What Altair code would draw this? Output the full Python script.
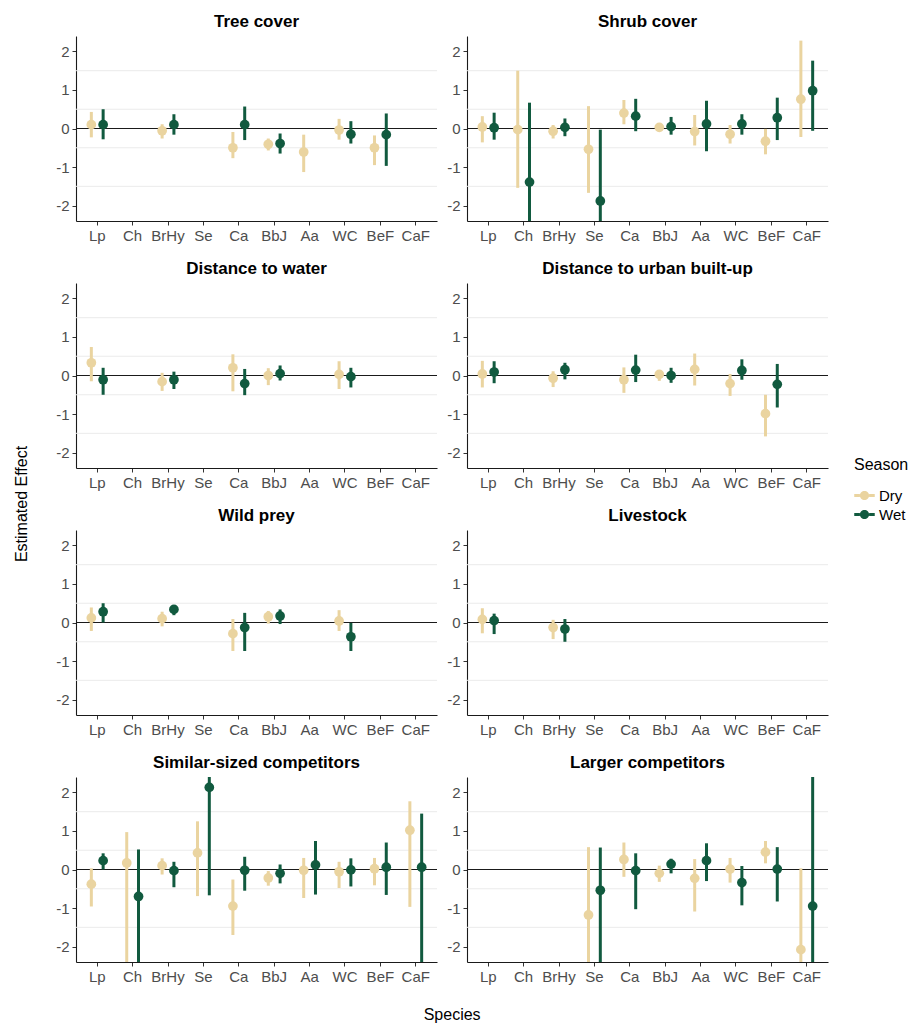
import altair as alt
import pandas as pd

FONT = "Liberation Sans"

species = ["Lp", "Ch", "BrHy", "Se", "Ca", "BbJ", "Aa", "WC", "BeF", "CaF"]
seasons = ["Dry", "Wet"]
season_colors = ["#EAD4A0", "#115A3F"]
panels = ["Tree cover", "Shrub cover", "Distance to water", "Distance to urban built-up",
          "Wild prey", "Livestock", "Similar-sized competitors", "Larger competitors"]
y_ticks = [-2, -1, 0, 1, 2]
minor_grid = [-1.5, -0.5, 0.5, 1.5]
zero_line = [0]
N = None

# ---- Tree cover ----
tree_dry_est = [0.10, N, -0.06, N, -0.50, -0.41, -0.61, -0.04, -0.50, N]
tree_dry_lo = [-0.23, N, -0.26, N, -0.77, -0.57, -1.13, -0.29, -0.95, N]
tree_dry_hi = [0.43, N, 0.11, N, -0.09, -0.26, -0.16, 0.25, -0.18, N]
tree_wet_est = [0.10, N, 0.10, N, 0.10, -0.39, N, -0.15, -0.16, N]
tree_wet_lo = [-0.28, N, -0.16, N, -0.30, -0.65, N, -0.39, -0.97, N]
tree_wet_hi = [0.50, N, 0.37, N, 0.57, -0.13, N, 0.19, 0.39, N]
# ---- Shrub cover ----
shrub_dry_est = [0.04, -0.03, -0.07, -0.54, 0.40, 0.03, -0.08, -0.15, -0.33, 0.76]
shrub_dry_lo = [-0.36, -1.54, -0.26, -1.67, 0.11, -0.06, -0.44, -0.39, -0.67, -0.22]
shrub_dry_hi = [0.32, 1.50, 0.09, 0.58, 0.74, 0.13, 0.35, 0.09, -0.01, 2.28]
shrub_wet_est = [0.02, -1.39, 0.03, -1.88, 0.32, 0.05, 0.12, 0.12, 0.28, 0.98]
shrub_wet_lo = [-0.29, -2.6, -0.20, -2.6, -0.07, -0.16, -0.59, -0.16, -0.30, -0.06]
shrub_wet_hi = [0.41, 0.67, 0.26, -0.03, 0.77, 0.30, 0.72, 0.37, 0.80, 1.76]
# ---- Distance to water ----
water_dry_est = [0.33, N, -0.16, N, 0.20, 0.00, N, 0.03, N, N]
water_dry_lo = [-0.15, N, -0.40, N, -0.41, -0.25, N, -0.35, N, N]
water_dry_hi = [0.74, N, 0.07, N, 0.55, 0.19, N, 0.37, N, N]
water_wet_est = [-0.11, N, -0.11, N, -0.21, 0.05, N, -0.03, N, N]
water_wet_lo = [-0.50, N, -0.35, N, -0.51, -0.13, N, -0.31, N, N]
water_wet_hi = [0.20, N, 0.10, N, 0.17, 0.26, N, 0.20, N, N]
# ---- Distance to urban built-up ----
urban_dry_est = [0.04, N, -0.07, N, -0.11, 0.03, 0.16, -0.21, -0.99, N]
urban_dry_lo = [-0.31, N, -0.30, N, -0.45, -0.14, -0.26, -0.53, -1.58, N]
urban_dry_hi = [0.38, N, 0.11, N, 0.21, 0.13, 0.57, 0.04, -0.50, N]
urban_wet_est = [0.09, N, 0.15, N, 0.14, 0.00, N, 0.13, -0.23, N]
urban_wet_lo = [-0.20, N, -0.10, N, -0.17, -0.19, N, -0.11, -0.83, N]
urban_wet_hi = [0.37, N, 0.33, N, 0.54, 0.20, N, 0.42, 0.30, N]
# ---- Wild prey ----
prey_dry_est = [0.12, N, 0.10, N, -0.29, 0.15, N, 0.04, N, N]
prey_dry_lo = [-0.22, N, -0.10, N, -0.74, -0.03, N, -0.22, N, N]
prey_dry_hi = [0.39, N, 0.28, N, 0.09, 0.30, N, 0.32, N, N]
prey_wet_est = [0.28, N, 0.34, N, -0.13, 0.17, N, -0.37, N, N]
prey_wet_lo = [0.00, N, 0.19, N, -0.74, -0.04, N, -0.74, N, N]
prey_wet_hi = [0.50, N, 0.43, N, 0.25, 0.34, N, -0.01, N, N]
# ---- Livestock ----
live_dry_est = [0.08, N, -0.13, N, N, N, N, N, N, N]
live_dry_lo = [-0.28, N, -0.43, N, N, N, N, N, N, N]
live_dry_hi = [0.37, N, 0.07, N, N, N, N, N, N, N]
live_wet_est = [0.05, N, -0.17, N, N, N, N, N, N, N]
live_wet_lo = [-0.30, N, -0.50, N, N, N, N, N, N, N]
live_wet_hi = [0.23, N, 0.09, N, N, N, N, N, N, N]
# ---- Similar-sized competitors ----
simil_dry_est = [-0.38, 0.17, 0.10, 0.43, -0.95, -0.22, -0.02, -0.06, 0.02, 1.02]
simil_dry_lo = [-0.96, -2.6, -0.13, -0.69, -1.70, -0.42, -0.74, -0.48, -0.41, -0.97]
simil_dry_hi = [0.03, 0.97, 0.29, 1.25, -0.26, -0.04, 0.30, 0.20, 0.30, 1.77]
simil_wet_est = [0.23, -0.70, -0.03, 2.13, -0.02, -0.10, 0.12, -0.01, 0.06, 0.06]
simil_wet_lo = [0.00, -2.6, -0.46, -0.67, -0.55, -0.36, -0.65, -0.44, -0.66, -2.6]
simil_wet_hi = [0.42, 0.52, 0.20, 2.6, 0.33, 0.13, 0.74, 0.29, 0.70, 1.45]
# ---- Larger competitors ----
large_dry_est = [N, N, N, -1.18, 0.26, -0.10, -0.23, 0.01, 0.45, -2.08]
large_dry_lo = [N, N, N, -2.6, -0.19, -0.32, -1.09, -0.34, 0.16, -2.6]
large_dry_hi = [N, N, N, 0.58, 0.70, 0.10, 0.27, 0.30, 0.74, 0.03]
large_wet_est = [N, N, N, -0.54, -0.03, 0.14, 0.23, -0.34, 0.01, -0.95]
large_wet_lo = [N, N, N, -2.6, -1.03, -0.10, -0.30, -0.93, -0.83, -2.6]
large_wet_hi = [N, N, N, 0.57, 0.42, 0.28, 0.68, 0.09, 0.58, 2.6]

panel_series = [
    (tree_dry_est, tree_dry_lo, tree_dry_hi, tree_wet_est, tree_wet_lo, tree_wet_hi),
    (shrub_dry_est, shrub_dry_lo, shrub_dry_hi, shrub_wet_est, shrub_wet_lo, shrub_wet_hi),
    (water_dry_est, water_dry_lo, water_dry_hi, water_wet_est, water_wet_lo, water_wet_hi),
    (urban_dry_est, urban_dry_lo, urban_dry_hi, urban_wet_est, urban_wet_lo, urban_wet_hi),
    (prey_dry_est, prey_dry_lo, prey_dry_hi, prey_wet_est, prey_wet_lo, prey_wet_hi),
    (live_dry_est, live_dry_lo, live_dry_hi, live_wet_est, live_wet_lo, live_wet_hi),
    (simil_dry_est, simil_dry_lo, simil_dry_hi, simil_wet_est, simil_wet_lo, simil_wet_hi),
    (large_dry_est, large_dry_lo, large_dry_hi, large_wet_est, large_wet_lo, large_wet_hi),
]

rows = []
for pname, ser in zip(panels, panel_series):
    for s_idx, season in enumerate(seasons):
        est, lo, hi = ser[3 * s_idx], ser[3 * s_idx + 1], ser[3 * s_idx + 2]
        for sp, e, l, h in zip(species, est, lo, hi):
            if e is None:
                continue
            rows.append({"panel": pname, "species": sp, "season": season,
                         "est": e, "lo": l, "hi": h})
df = pd.DataFrame(rows)
grid_df = pd.DataFrame({"g": minor_grid})
zero_df = pd.DataFrame({"z": zero_line})

PANEL_W = 361
PANEL_H = 185

y_scale = alt.Scale(domain=[-2.4, 2.4], nice=False, zero=False)
y_axis = alt.Axis(title=None, values=y_ticks, grid=False, labelExpr="'' + datum.value",
                  domainColor="#1a1a1a", domainWidth=1.1, tickColor="#333333", tickSize=4,
                  labelColor="#4D4D4D", labelFontSize=15, labelFont=FONT, labelPadding=3)
x_enc = alt.X("species:N", sort=species,
              scale=alt.Scale(domain=species, paddingInner=0, paddingOuter=0.1),
              axis=alt.Axis(title=None, domainColor="#1a1a1a", domainWidth=1.1,
                            tickColor="#333333", tickSize=4, labelColor="#4D4D4D",
                            labelFontSize=15, labelFont=FONT, labelAngle=0, labelPadding=3,
                            grid=False))
xoff = alt.XOffset("season:N", scale=alt.Scale(domain=seasons, type="point", padding=1.1667))

LEGEND_PATH = ("M-1,-0.15 L-0.45,-0.15 L-0.45,0.15 L-1,0.15 Z "
               "M0.45,-0.15 L1,-0.15 L1,0.15 L0.45,0.15 Z "
               "M0.45,0 A0.45,0.45 0 1 1 -0.45,0 A0.45,0.45 0 1 1 0.45,0 Z")
color_enc = alt.Color("season:N", scale=alt.Scale(domain=seasons, range=season_colors),
                      legend=alt.Legend(title="Season", symbolType=LEGEND_PATH,
                                        symbolSize=420, symbolStrokeWidth=0,
                                        symbolOpacity=1, orient="none",
                                        legendX=778, legendY=421, padding=0,
                                        titleFont=FONT, titleFontSize=16,
                                        titleFontWeight="normal", titleColor="#000000",
                                        labelFont=FONT, labelFontSize=15,
                                        labelColor="#000000", rowPadding=0,
                                        titlePadding=12))


def make_panel(pname):
    base = alt.Chart(df).transform_filter(alt.datum.panel == pname)
    grid = alt.Chart(grid_df).mark_rule(color="#EBEBEB", strokeWidth=1).encode(
        y=alt.Y("g:Q", scale=y_scale, axis=y_axis))
    zero = alt.Chart(zero_df).mark_rule(color="#1a1a1a", strokeWidth=1.2).encode(
        y=alt.Y("z:Q", scale=y_scale, axis=y_axis))
    ci = base.mark_rule(strokeWidth=3, clip=True).encode(
        x=x_enc, xOffset=xoff,
        y=alt.Y("lo:Q", scale=y_scale, axis=y_axis), y2="hi:Q",
        color=color_enc)
    pts = base.mark_point(filled=True, shape="circle", size=95, opacity=1, clip=True).encode(
        x=x_enc, xOffset=xoff,
        y=alt.Y("est:Q", scale=y_scale, axis=y_axis),
        color=color_enc)
    return alt.layer(grid, zero, ci, pts).properties(
        width=PANEL_W, height=PANEL_H,
        title=alt.TitleParams(pname, font=FONT, fontSize=17, fontWeight="bold",
                              color="#000000", anchor="middle", frame="group", offset=5))


panel_charts = [make_panel(p) for p in panels]
row_charts = [alt.hconcat(panel_charts[i], panel_charts[i + 1], spacing=8)
              for i in range(0, 8, 2)]
inner = alt.vconcat(*row_charts, spacing=17,
                    title=alt.TitleParams("Species", orient="bottom", anchor="middle",
                                          font=FONT, fontSize=16, fontWeight="normal",
                                          color="#000000", offset=23, dx=10))
chart = alt.hconcat(inner, title=alt.TitleParams("Estimated Effect", orient="left",
                                                 anchor="middle", font=FONT, fontSize=16,
                                                 fontWeight="normal", color="#000000",
                                                 offset=26, dx=14)).properties(
    background="white",
    padding={"left": 5, "top": 5, "right": 0, "bottom": 2}).configure_view(
    stroke="transparent", strokeWidth=0)

chart.save("out.html", embed_options={"renderer": "svg", "actions": False})
